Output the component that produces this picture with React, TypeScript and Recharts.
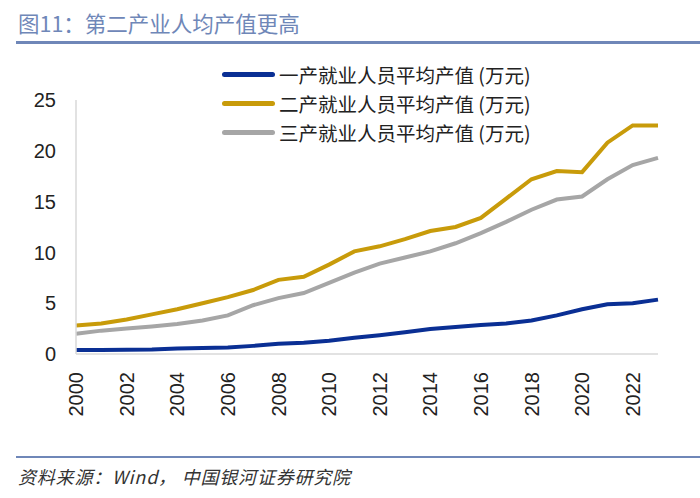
import { LineChart, Line, XAxis, YAxis } from 'recharts'

const years = [
  '2000', '2001', '2002', '2003', '2004', '2005', '2006', '2007', '2008', '2009', '2010', '2011',
  '2012', '2013', '2014', '2015', '2016', '2017', '2018', '2019', '2020', '2021', '2022', '2023',
]

// 一产 / 二产 / 三产 就业人员平均产值 (万元)
const primary = [0.4, 0.4, 0.42, 0.45, 0.55, 0.6, 0.65, 0.8, 1.0, 1.1, 1.3, 1.6, 1.85, 2.15, 2.45, 2.65, 2.85, 3.0, 3.3, 3.8, 4.4, 4.9, 5.0, 5.35]
const secondary = [2.8, 3.0, 3.4, 3.9, 4.4, 5.0, 5.6, 6.3, 7.3, 7.6, 8.8, 10.1, 10.6, 11.3, 12.1, 12.5, 13.4, 15.3, 17.2, 18.0, 17.9, 20.8, 22.5, 22.5]
const tertiary = [2.0, 2.3, 2.5, 2.7, 2.95, 3.3, 3.8, 4.8, 5.5, 6.0, 7.0, 8.0, 8.9, 9.5, 10.1, 10.9, 11.9, 13.0, 14.2, 15.2, 15.5, 17.2, 18.6, 19.3]

const seriesNames = ['一产就业人员平均产值 (万元)', '二产就业人员平均产值 (万元)', '三产就业人员平均产值 (万元)']
const seriesKeys = ['primary', 'secondary', 'tertiary']
const seriesColors = ['#0a2f94', '#c89b0a', '#a6a6a6']

const yTicks = [0, 5, 10, 15, 20, 25]

const data = years.map((year, i) => ({
  year,
  primary: primary[i],
  secondary: secondary[i],
  tertiary: tertiary[i],
}))

const font = '"Noto Sans CJK SC", "Liberation Sans", sans-serif'
const latin = '"Liberation Sans", Arial, sans-serif'
const accent = '#6f87b8'

const XTick = (props: any) => {
  const { x, y, payload } = props
  return (
    <text
      x={x}
      y={y + 10}
      transform={`rotate(-90, ${x}, ${y + 10})`}
      textAnchor="end"
      dy="0.36em"
      fontSize={20}
      fill="#222"
      fontFamily={latin}
    >
      {payload.value}
    </text>
  )
}

export default function App() {
  return (
    <div style={{ position: 'fixed', left: 0, top: 0, width: 700, height: 498, background: '#fff', fontFamily: font }}>
      <div style={{ position: 'absolute', left: 18, top: 7, fontSize: 21.5, color: accent }}>
        图11：第二产业人均产值更高
      </div>
      <div style={{ position: 'absolute', left: 16, top: 41, width: 684, height: 3, background: accent }} />

      <div style={{ position: 'absolute', left: 0, top: 45 }}>
        <LineChart width={700} height={400} data={data} margin={{ top: 55, right: 42, left: 0, bottom: 0 }}>
          <XAxis
            dataKey="year"
            interval={1}
            height={91}
            axisLine={{ stroke: '#d9d9d9', strokeWidth: 1.5 }}
            tickLine={false}
            tick={<XTick />}
          />
          <YAxis
            width={76}
            domain={[0, 25]}
            ticks={yTicks}
            axisLine={{ stroke: '#d9d9d9', strokeWidth: 1.5 }}
            tickLine={false}
            tickSize={0}
            tickMargin={20}
            tick={{ fontSize: 20, fill: '#222', fontFamily: latin }}
          />
          {seriesKeys.map((key, i) => (
            <Line
              key={key}
              dataKey={key}
              name={seriesNames[i]}
              stroke={seriesColors[i]}
              strokeWidth={4}
              dot={false}
              type="linear"
              isAnimationActive={false}
            />
          ))}
        </LineChart>
      </div>

      <div style={{ position: 'absolute', left: 222, top: 60 }}>
        {seriesNames.map((name, i) => (
          <div key={name} style={{ display: 'flex', alignItems: 'center', height: 29 }}>
            <div style={{ width: 53, height: 5, borderRadius: 3, background: seriesColors[i], marginRight: 4 }} />
            <span style={{ fontSize: 19.5, color: '#222', whiteSpace: 'nowrap' }}>{name}</span>
          </div>
        ))}
      </div>

      <div style={{ position: 'absolute', left: 16, top: 456, width: 684, height: 2, background: accent }} />
      <div style={{ position: 'absolute', left: 18, top: 463, fontSize: 18, color: '#333', fontStyle: 'italic', letterSpacing: 0.8 }}>
        资料来源：Wind， 中国银河证券研究院
      </div>
    </div>
  )
}
